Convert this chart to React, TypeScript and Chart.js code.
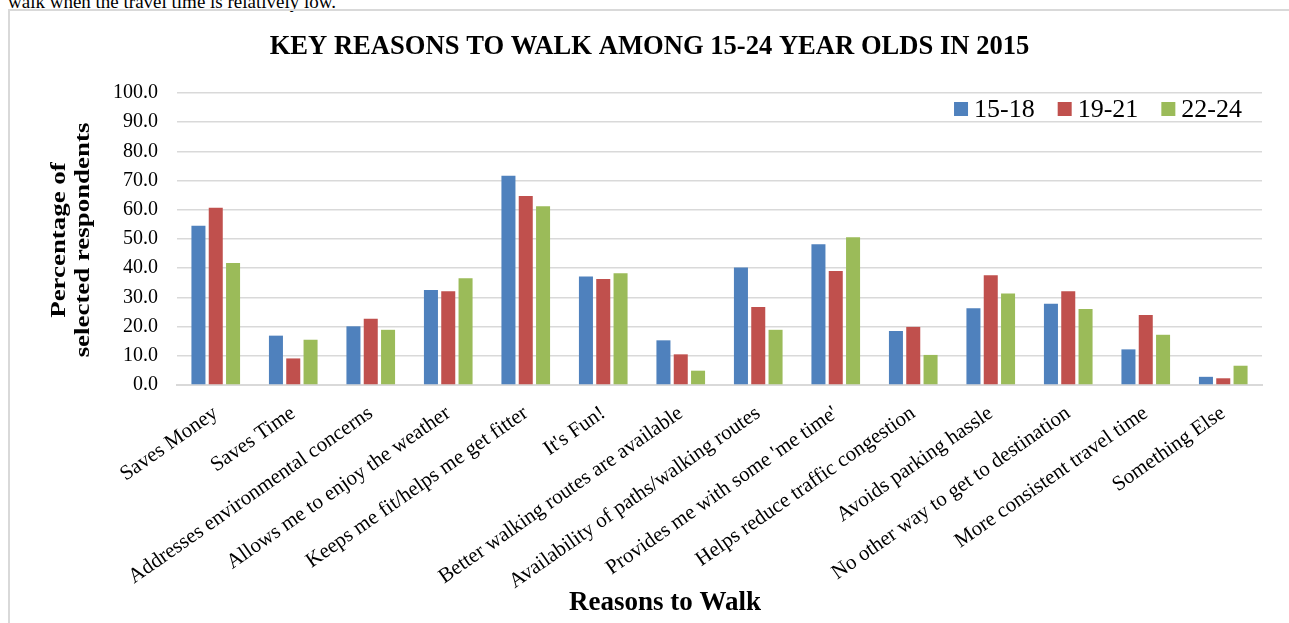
import React, { useEffect, useRef } from 'react';
import { Chart, registerables } from 'chart.js';

Chart.register(...registerables);

const SERIF = "'Times New Roman', 'Liberation Serif', Times, serif";

const pageNote = 'walk when the travel time is relatively low.';
const chartTitle = 'KEY REASONS TO WALK AMONG 15-24 YEAR OLDS IN 2015';
const xAxisTitle = 'Reasons to Walk';
const yAxisTitle = ['Percentage of', 'selected respondents'];

const categories = [
  'Saves Money',
  'Saves Time',
  'Addresses environmental concerns',
  'Allows me to enjoy the weather',
  'Keeps me fit/helps me get fitter',
  "It's Fun!",
  'Better walking routes are available',
  'Availability of paths/walking routes',
  "Provides me with some 'me time'",
  'Helps reduce traffic congestion',
  'Avoids parking hassle',
  'No other way to get to destination',
  'More consistent travel time',
  'Something Else',
];

const seriesLabels = ['15-18', '19-21', '22-24'];
const seriesColors = ['#4f81bd', '#c0504d', '#9bbb59'];

const values1518 = [54.5, 16.9, 20.1, 32.5, 71.7, 37.2, 15.3, 40.2, 48.2, 18.5, 26.3, 27.8, 12.2, 2.8];
const values1921 = [60.7, 9.1, 22.7, 32.1, 64.7, 36.3, 10.5, 26.7, 39.0, 19.9, 37.6, 32.1, 24.0, 2.3];
const values2224 = [41.8, 15.5, 18.9, 36.6, 61.2, 38.3, 4.9, 18.9, 50.6, 10.3, 31.3, 26.0, 17.2, 6.6];

const yMin = 0;
const yMax = 100;
const yStep = 10;

const decorPlugin = {
  id: 'decor',
  afterDraw(chart: any) {
    const ctx = chart.ctx as CanvasRenderingContext2D;
    const area = chart.chartArea;
    ctx.save();
    ctx.fillStyle = '#000';

    // main title
    ctx.font = `bold 26.6px ${SERIF}`;
    ctx.textAlign = 'center';
    ctx.textBaseline = 'middle';
    ctx.fillText(chartTitle, chart.width / 2, 36);

    // legend inside the plot, top-right
    ctx.font = `26px ${SERIF}`;
    ctx.textAlign = 'left';
    const box = 14;
    const gap = 6;
    const spacing = 23;
    const items = chart.data.datasets.map((d: any) => ({
      label: d.label as string,
      color: d.backgroundColor as string,
      w: ctx.measureText(d.label).width,
    }));
    const total =
      items.reduce((s: number, it: any) => s + box + gap + it.w, 0) + spacing * (items.length - 1);
    let x = area.right - 20 - total;
    const cy = area.top + 16;
    items.forEach((it: any) => {
      ctx.fillStyle = it.color;
      ctx.fillRect(x, cy - box / 2, box, box);
      x += box + gap;
      ctx.fillStyle = '#000';
      ctx.fillText(it.label, x, cy + 1);
      x += it.w + spacing;
    });

    // x axis title
    ctx.font = `bold 27px ${SERIF}`;
    ctx.textAlign = 'center';
    ctx.fillText(xAxisTitle, 655, 592);

    // y axis title (two lines, rotated)
    ctx.font = `bold 21px ${SERIF}`;
    const lineX = [50, 74];
    const cyMid = (area.top + area.bottom) / 2 + 1;
    yAxisTitle.forEach((line, i) => {
      ctx.save();
      ctx.translate(lineX[i], cyMid);
      ctx.rotate(-Math.PI / 2);
      ctx.scale(1.28, 1);
      ctx.fillText(line, 0, 0);
      ctx.restore();
    });
    ctx.restore();
  },
};

function BarChart() {
  const ref = useRef<HTMLCanvasElement | null>(null);
  useEffect(() => {
    if (!ref.current) return;
    const datasetValues = [values1518, values1921, values2224];
    const chart = new Chart(ref.current, {
      type: 'bar',
      data: {
        labels: categories,
        datasets: datasetValues.map((vals, i) => ({
          label: seriesLabels[i],
          data: vals,
          backgroundColor: seriesColors[i],
          borderWidth: 0,
          categoryPercentage: 0.67,
          barPercentage: 0.81,
        })),
      },
      options: {
        responsive: false,
        animation: false,
        devicePixelRatio: 1,
        layout: { padding: { top: 82, right: 27, bottom: 0, left: 0 } },
        plugins: {
          legend: { display: false },
          title: { display: false },
          tooltip: { enabled: false },
        },
        scales: {
          x: {
            grid: { display: false, drawTicks: false },
            border: { display: true, color: '#d9d9d9', width: 2 },
            ticks: {
              color: '#000',
              font: { family: SERIF, size: 21 },
              minRotation: 35,
              maxRotation: 35,
              autoSkip: false,
              padding: 16,
            },
            afterFit: (scale: any) => {
              scale.height = 238;
            },
          },
          y: {
            min: yMin,
            max: yMax,
            grid: { color: '#d9d9d9', lineWidth: 1.5, drawTicks: false },
            border: { display: false },
            ticks: {
              stepSize: yStep,
              color: '#000',
              font: { family: SERIF, size: 20 },
              padding: 19,
              callback: (v: any) => Number(v).toFixed(1),
            },
            afterFit: (scale: any) => {
              scale.width = 167;
            },
          },
        },
      },
      plugins: [decorPlugin],
    });
    return () => chart.destroy();
  }, []);
  return <canvas ref={ref} width={1279} height={612} style={{ display: 'block' }} />;
}

export default function App() {
  return (
    <div
      style={{
        position: 'fixed',
        left: 0,
        top: 0,
        width: 1289,
        height: 623,
        overflow: 'hidden',
        background: '#fff',
      }}
    >
      <div
        style={{
          position: 'absolute',
          left: 8,
          top: -8,
          fontFamily: SERIF,
          fontSize: 19,
          lineHeight: '19px',
          color: '#000',
          whiteSpace: 'nowrap',
        }}
      >
        {pageNote}
      </div>
      <div
        style={{
          position: 'absolute',
          left: 8,
          top: 9,
          width: 1281,
          height: 614,
          boxSizing: 'border-box',
          borderLeft: '2px solid #d9d9d9',
          borderTop: '2px solid #d9d9d9',
          background: 'transparent',
        }}
      >
        <BarChart />
      </div>
    </div>
  );
}
